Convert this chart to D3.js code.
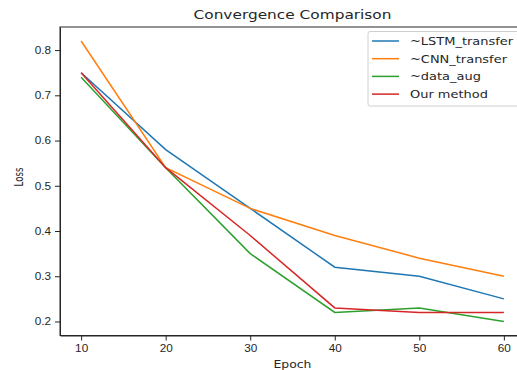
<!DOCTYPE html>
<html>
<head>
  <meta charset="utf-8" />
  <title>Convergence Comparison</title>
  <script src="https://d3js.org/d3.v7.min.js"></script>
  <style>
    body { margin: 0; background: #fff; }
    svg { display: block; font-family: "DejaVu Sans", sans-serif; }
    .axis text { font-size: 10.5px; fill: #262626; }
    .axis path, .axis line { stroke: #262626; }
  </style>
</head>
<body>
  <svg width="517" height="370"></svg>
  <script>
    const epochs = [10, 20, 30, 40, 50, 60];
    const lstmTransfer = [0.75, 0.58, 0.45, 0.32, 0.30, 0.25];
    const cnnTransfer = [0.82, 0.54, 0.45, 0.39, 0.34, 0.30];
    const dataAug = [0.74, 0.54, 0.35, 0.22, 0.23, 0.20];
    const ourMethod = [0.75, 0.54, 0.39, 0.23, 0.22, 0.22];
    const yTicks = [0.2, 0.3, 0.4, 0.5, 0.6, 0.7, 0.8];

    const series = [
      { name: "~LSTM_transfer", values: lstmTransfer, color: "#1f77b4" },
      { name: "~CNN_transfer", values: cnnTransfer, color: "#ff7f0e" },
      { name: "~data_aug", values: dataAug, color: "#2ca02c" },
      { name: "Our method", values: ourMethod, color: "#d62728" }
    ];

    const svg = d3.select("svg");
    // plot area: right edge goes past the window, as in the reference
    const plot = { left: 60, right: 525, top: 27, bottom: 335.5 };
    // the reference text looks stretched sideways
    const sx = 1.12;

    const x = d3.scaleLinear().domain([7.5, 62.5]).range([plot.left, plot.right]);
    const y = d3.scaleLinear().domain([0.169, 0.851]).range([plot.bottom, plot.top]);

    svg.append("g")
      .attr("class", "axis")
      .attr("transform", `translate(0,${plot.bottom})`)
      .call(d3.axisBottom(x).tickValues(epochs).tickSize(5).tickPadding(4).tickSizeOuter(0))
      .selectAll("text").attr("transform", `scale(${sx},1)`);

    svg.append("g")
      .attr("class", "axis")
      .attr("transform", `translate(${plot.left},0)`)
      .call(d3.axisLeft(y).tickValues(yTicks).tickFormat(d3.format(".1f")).tickSize(5).tickPadding(4).tickSizeOuter(0))
      .selectAll("text")
      .attr("x", -9 / sx)
      .attr("transform", `scale(${sx},1)`);

    // frame
    svg.append("rect")
      .attr("x", plot.left).attr("y", plot.top)
      .attr("width", plot.right - plot.left).attr("height", plot.bottom - plot.top)
      .attr("fill", "none").attr("stroke", "#262626").attr("stroke-width", 1);

    const line = d3.line()
      .x((d, i) => x(epochs[i]))
      .y(d => y(d));

    svg.selectAll(".series")
      .data(series)
      .enter().append("path")
      .attr("class", "series")
      .attr("fill", "none")
      .attr("stroke", d => d.color)
      .attr("stroke-width", 1.5)
      .attr("d", d => line(d.values));

    svg.append("text")
      .attr("transform", `translate(${(plot.left + plot.right) / 2},19) scale(1.2,1)`)
      .attr("text-anchor", "middle")
      .attr("font-size", 12.8)
      .attr("fill", "#262626")
      .text("Convergence Comparison");

    svg.append("text")
      .attr("transform", `translate(${(plot.left + plot.right) / 2},368) scale(1.18,1)`)
      .attr("text-anchor", "middle")
      .attr("font-size", 10.5)
      .attr("fill", "#262626")
      .text("Epoch");

    svg.append("text")
      .attr("transform", `translate(23,177) rotate(-90) scale(0.82,1.15)`)
      .attr("text-anchor", "middle")
      .attr("font-size", 10.5)
      .attr("fill", "#262626")
      .text("Loss");

    // legend
    const lg = svg.append("g").attr("transform", "translate(368,31.5)");
    lg.append("rect")
      .attr("width", 160).attr("height", 74.5)
      .attr("rx", 2)
      .attr("fill", "#fff").attr("fill-opacity", 0.8)
      .attr("stroke", "#d0d0d0");
    const items = lg.selectAll(".item")
      .data(series)
      .enter().append("g")
      .attr("transform", (d, i) => `translate(0,${9.5 + i * 17.7})`);
    items.append("line")
      .attr("x1", 4).attr("x2", 31)
      .attr("stroke", d => d.color)
      .attr("stroke-width", 1.5);
    items.append("text")
      .attr("transform", "translate(42,0) scale(1.18,1)")
      .attr("dy", "0.35em")
      .attr("font-size", 11)
      .attr("fill", "#262626")
      .text(d => d.name);
  </script>
</body>
</html>
